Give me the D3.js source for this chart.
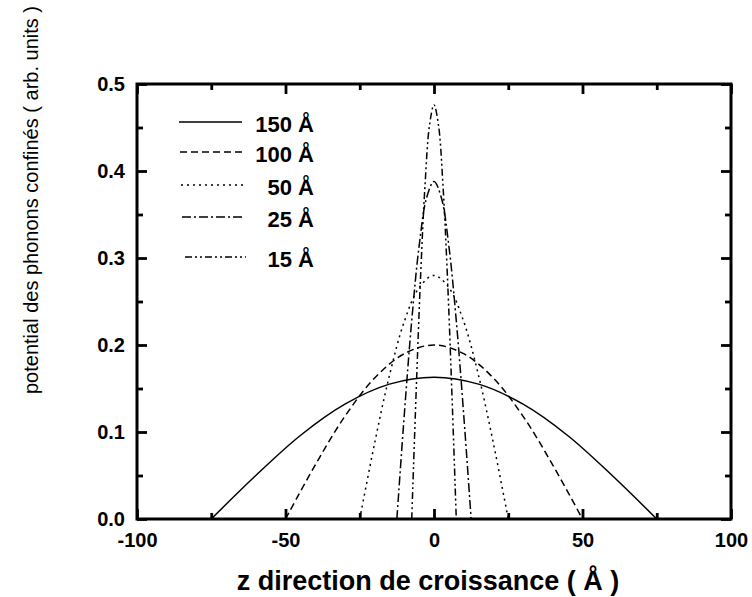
<!DOCTYPE html>
<html>
<head>
<meta charset="utf-8">
<script src="https://cdn.jsdelivr.net/npm/d3@7"></script>
<style>
  html, body { margin: 0; padding: 0; background: #fff; }
  svg text { font-family: "Liberation Sans", Arial, sans-serif; fill: #000; }
</style>
</head>
<body>
<svg id="chart" width="752" height="597"></svg>
<script>
// ---- data ----
const widths = ["150 Å", "100 Å", "50 Å", "25 Å", "15 Å"];

const z150 = [-75, -60, -45, -30, -15, 0, 15, 30, 45, 60, 75];
const v150 = [0, 0.050, 0.096, 0.132, 0.155, 0.163, 0.155, 0.132, 0.096, 0.050, 0];

const z100 = [-50, -40, -30, -20, -10, 0, 10, 20, 30, 40, 50];
const v100 = [0, 0.062, 0.118, 0.162, 0.190, 0.200, 0.190, 0.162, 0.118, 0.062, 0];

const z50 = [-25, -20, -15, -10, -5, 0, 5, 10, 15, 20, 25];
const v50 = [0, 0.087, 0.165, 0.227, 0.266, 0.280, 0.266, 0.227, 0.165, 0.087, 0];

const z25 = [-12.5, -10, -7.5, -5, -2.5, 0, 2.5, 5, 7.5, 10, 12.5];
const v25 = [0, 0.120, 0.228, 0.314, 0.369, 0.388, 0.369, 0.314, 0.228, 0.120, 0];

const z15 = [-7.5, -6, -4.5, -3, -1.5, 0, 1.5, 3, 4.5, 6, 7.5];
const v15 = [0, 0.147, 0.280, 0.385, 0.453, 0.476, 0.453, 0.385, 0.280, 0.147, 0];

const xTicks = [-100, -50, 0, 50, 100];
const xMinor = [-75, -25, 25, 75];
const yTicks = [0.0, 0.1, 0.2, 0.3, 0.4, 0.5];
const yMinor = [0.05, 0.15, 0.25, 0.35, 0.45];

const xTitle = "z  direction de croissance ( Å )";
const yTitle = "potential des phonons confinés ( arb. units )";

// ---- layout ----
const svg = d3.select("#chart");
const L = 137, R = 731, T = 84, B = 519;
const x = d3.scaleLinear().domain([-100, 100]).range([L, R]);
const y = d3.scaleLinear().domain([0, 0.5]).range([B, T]);

const series = [
  { name: widths[0], z: z150, v: v150, dash: null },
  { name: widths[1], z: z100, v: v100, dash: "7,4" },
  { name: widths[2], z: z50,  v: v50,  dash: "2,4" },
  { name: widths[3], z: z25,  v: v25,  dash: "9,3,2,3" },
  { name: widths[4], z: z15,  v: v15,  dash: "7,3,2,3,2,3" }
];

const line = d3.line()
  .x(d => x(d[0]))
  .y(d => y(d[1]))
  .curve(d3.curveCatmullRom.alpha(0.5));

const plot = svg.append("g");
series.forEach(s => {
  plot.append("path")
    .datum(s.z.map((zz, i) => [zz, s.v[i]]))
    .attr("d", line)
    .attr("fill", "none")
    .attr("stroke", "#000")
    .attr("stroke-width", 1.5)
    .attr("stroke-dasharray", s.dash);
});

// ---- axes (ticks inward) ----
function styleAxis(g) {
  g.select(".domain").remove();
  g.selectAll(".tick line").attr("stroke", "#000").attr("stroke-width", 2.8);
  g.selectAll("text").style("font-family", "Liberation Sans, Arial, sans-serif")
    .style("font-weight", "bold").style("font-size", "20px").attr("fill", "#000");
}
const maj = 10, mnr = 6;
const fmtX = d => String(d);
const fmtY = d => d.toFixed(1);
// bottom
svg.append("g").attr("transform", `translate(0,${B})`)
  .call(d3.axisBottom(x).tickValues(xTicks).tickSizeInner(-maj).tickSizeOuter(0).tickPadding(maj + 4).tickFormat(fmtX))
  .call(styleAxis);
svg.append("g").attr("transform", `translate(0,${B})`)
  .call(d3.axisBottom(x).tickValues(xMinor).tickSizeInner(-mnr).tickSizeOuter(0).tickFormat(""))
  .call(styleAxis);
// top
svg.append("g").attr("transform", `translate(0,${T})`)
  .call(d3.axisTop(x).tickValues(xTicks).tickSizeInner(-maj).tickSizeOuter(0).tickFormat(""))
  .call(styleAxis);
svg.append("g").attr("transform", `translate(0,${T})`)
  .call(d3.axisTop(x).tickValues(xMinor).tickSizeInner(-mnr).tickSizeOuter(0).tickFormat(""))
  .call(styleAxis);
// left
svg.append("g").attr("transform", `translate(${L},0)`)
  .call(d3.axisLeft(y).tickValues(yTicks).tickSizeInner(-maj).tickSizeOuter(0).tickPadding(maj + 2).tickFormat(fmtY))
  .call(styleAxis);
svg.append("g").attr("transform", `translate(${L},0)`)
  .call(d3.axisLeft(y).tickValues(yMinor).tickSizeInner(-mnr).tickSizeOuter(0).tickFormat(""))
  .call(styleAxis);
// right
svg.append("g").attr("transform", `translate(${R},0)`)
  .call(d3.axisRight(y).tickValues(yTicks).tickSizeInner(-maj).tickSizeOuter(0).tickFormat(""))
  .call(styleAxis);
svg.append("g").attr("transform", `translate(${R},0)`)
  .call(d3.axisRight(y).tickValues(yMinor).tickSizeInner(-mnr).tickSizeOuter(0).tickFormat(""))
  .call(styleAxis);

// frame
svg.append("rect")
  .attr("x", L).attr("y", T).attr("width", R - L).attr("height", B - T)
  .attr("fill", "none").attr("stroke", "#000").attr("stroke-width", 3);

// ---- legend ----
const legLineY = [122, 152, 185, 217, 257];
const legLineX = [[179, 242], [180, 242], [181, 243], [182, 244], [185, 246]];
const leg = svg.append("g");
series.forEach((s, i) => {
  const yy = legLineY[i];
  leg.append("line")
    .attr("x1", legLineX[i][0]).attr("x2", legLineX[i][1])
    .attr("y1", yy).attr("y2", yy)
    .attr("stroke", "#000").attr("stroke-width", 1.5)
    .attr("stroke-dasharray", s.dash);
  leg.append("text")
    .attr("x", 314)
    .attr("y", yy + 2)
    .attr("dy", "0.35em")
    .attr("text-anchor", "end")
    .style("font-weight", "bold").style("font-size", "22px")
    .text(s.name);
});

// ---- titles ----
svg.append("text")
  .attr("x", 428).attr("y", 590)
  .attr("text-anchor", "middle")
  .style("font-weight", "bold").style("font-size", "27px")
  .text(xTitle);

svg.append("text")
  .attr("transform", `translate(38,200) rotate(-90)`)
  .attr("text-anchor", "middle")
  .style("font-size", "20px")
  .text(yTitle);
</script>
</body>
</html>
